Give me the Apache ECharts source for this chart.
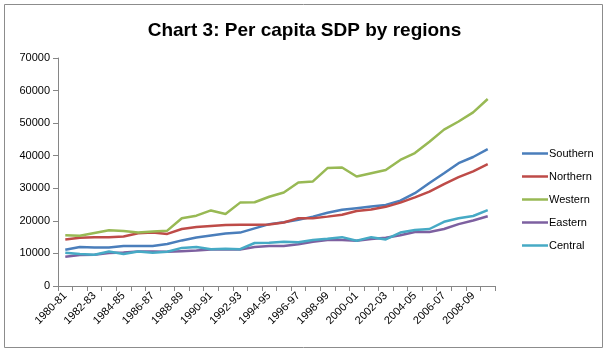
<!DOCTYPE html>
<html>
<head>
<meta charset="utf-8">
<script src="https://cdn.jsdelivr.net/npm/echarts@6/dist/echarts.min.js"></script>
<style>
html, body { margin: 0; padding: 0; background: #fff; }
#chart { width: 609px; height: 353px; }
</style>
</head>
<body>
<div id="chart"></div>
<script>
// categories: 1980-81 .. 2009-10
var years = [];
for (var y = 1980; y < 2010; y++) {
    years.push(y + '-' + String((y + 1) % 100).padStart(2, '0'));
}

var southern = [11100, 12000, 11800, 11800, 12300, 12300, 12300, 12900, 14000, 14900,
                15500, 16100, 16400, 17700, 19000, 19600, 20300, 21300, 22500, 23400,
                23900, 24400, 24900, 26200, 28500, 31600, 34600, 37700, 39600, 42000];
var northern = [14300, 14800, 15000, 15000, 15200, 16200, 16400, 16000, 17500, 18100,
                18400, 18700, 18800, 18800, 18900, 19500, 20800, 20800, 21300, 21900,
                23000, 23500, 24300, 25600, 27200, 29000, 31300, 33400, 35200, 37400];
var western  = [15600, 15400, 16300, 17100, 16900, 16400, 16700, 17000, 20800, 21600,
                23200, 22100, 25600, 25700, 27400, 28700, 31800, 32100, 36200, 36400,
                33600, 34600, 35600, 38700, 40800, 44300, 48000, 50500, 53300, 57400];
var eastern  = [9000, 9500, 9600, 10100, 10300, 10600, 10600, 10500, 10700, 10900,
                11200, 11300, 11200, 12000, 12300, 12300, 12800, 13600, 14100, 14100,
                13900, 14400, 14800, 15600, 16600, 16600, 17500, 19000, 20100, 21400];
var central  = [10200, 9800, 9600, 10600, 9800, 10600, 10200, 10500, 11700, 12000,
                11300, 11400, 11300, 13200, 13300, 13600, 13400, 14100, 14500, 15000,
                13900, 15000, 14300, 16400, 17200, 17500, 19700, 20800, 21500, 23300];

var names = ['Southern', 'Northern', 'Western', 'Eastern', 'Central'];
var colors = ['#4A7EBB', '#BE4B48', '#98B954', '#7D60A0', '#46AAC5'];
var values = [southern, northern, western, eastern, central];

var myChart = echarts.init(document.getElementById('chart'));

var series = [];
for (var i = 0; i < names.length; i++) {
    series.push({
        name: names[i],
        type: 'line',
        data: values[i],
        symbol: 'none',
        lineStyle: { width: 2.5, color: colors[i] },
        itemStyle: { color: colors[i] }
    });
}

var option = {
    animation: false,
    title: {
        text: 'Chart 3: Per capita SDP by regions',
        left: 'center',
        top: 16,
        textStyle: {
            fontFamily: 'Liberation Sans',
            fontSize: 19,
            fontWeight: 'bold',
            color: '#000'
        }
    },
    graphic: [{
        type: 'rect',
        shape: { x: 4.5, y: 4.5, width: 598, height: 343 },
        style: { fill: 'none', stroke: '#8c8c8c', lineWidth: 1 },
        silent: true
    }],
    legend: {
        orient: 'vertical',
        left: 517,
        top: 143,
        itemGap: 12,
        itemWidth: 26,
        itemHeight: 13,
        icon: 'path://M0,0 L26,0 L26,2.5 L0,2.5 Z',
        data: names,
        textStyle: { fontFamily: 'Liberation Sans', fontSize: 11, color: '#000', padding: [0, 0, 0, -4] }
    },
    grid: {
        left: 58,
        right: 114,
        top: 58,
        bottom: 67,
        containLabel: false
    },
    xAxis: {
        type: 'category',
        boundaryGap: true,
        data: years,
        axisLine: { lineStyle: { color: '#868686' } },
        axisTick: { show: true, interval: 0, length: 5, lineStyle: { color: '#868686' } },
        axisLabel: {
            interval: 1,
            rotate: 45,
            fontFamily: 'Liberation Sans',
            fontSize: 11,
            color: '#000',
            margin: 8
        },
        splitLine: { show: false }
    },
    yAxis: {
        type: 'value',
        min: 0,
        max: 70000,
        interval: 10000,
        axisLine: { show: true, lineStyle: { color: '#868686' } },
        axisTick: { show: true, length: 5, lineStyle: { color: '#868686' } },
        axisLabel: {
            fontFamily: 'Liberation Sans',
            fontSize: 11,
            color: '#000',
            margin: 8,
            formatter: function (value) { return String(value); }
        },
        splitLine: { show: false }
    },
    series: series
};

myChart.setOption(option);
window.onresize = myChart.resize;
</script>
</body>
</html>
